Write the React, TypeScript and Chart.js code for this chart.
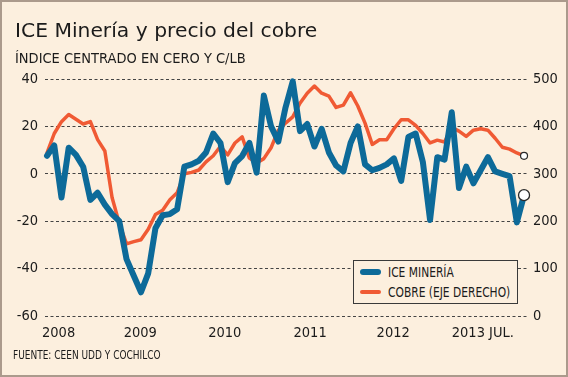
import React, { useEffect, useRef } from "react";
import { Chart, registerables } from "chart.js";

Chart.register(...registerables);

// Monthly values, Jan 2008 .. Jul 2013
const ICE_MINERIA = [
  7.6, 12, -10, 11, 8, 3, -11, -8, -13, -17,
  -20, -36, -43, -50, -42, -23, -17.5, -17, -15, 3,
  4, 5.5, 9, 17, 13, -3.5, 4.5, 7.5, 13, 0.5,
  33, 20, 13.6, 28, 39, 18, 21, 11.5, 19, 9,
  3.5, 1, 13, 20, 4, 1.5, 2.5, 4, 6.5, -3,
  15.5, 17, 5, -19.5, 7, 6, 26, -6, 3, -4,
  1.5, 7, 1, 0, -1, -20.5, -9,
];

const COBRE = [
  344, 385, 410, 425, 415, 405, 410, 372, 348, 250,
  195, 152, 157, 161, 183, 214, 223, 245, 260, 300,
  303, 308, 325, 338, 358, 340, 365, 378, 333, 323,
  332, 355, 392, 407, 420, 449, 470, 485, 470, 464,
  440, 445, 471, 443, 407, 362, 372, 372, 395, 414,
  414, 402, 385, 365, 371, 367, 398, 390, 379, 392,
  395, 392, 375, 356, 352, 344, 338,
];

const YEAR_LABELS = ["2008", "2009", "2010", "2011", "2012", "2013 JUL."];
const YEAR_LABEL_MONTHS = [1.6, 12.9, 24.6, 36.4, 47.9, 60.3];
const LEFT_TICKS = [-60, -40, -20, 0, 20, 40];
const RIGHT_TICKS = [0, 100, 200, 300, 400, 500];

const BG = "#fcefde";
const BLUE = "#0d6a99";
const ORANGE = "#f05a34";
const TEXT = "#1b1b1b";
const COND = '"DejaVu Sans Condensed", "DejaVu Sans", sans-serif';
const TICK_FONT = { family: COND, size: 14.5 };

export default function App() {
  const ref = useRef<HTMLCanvasElement>(null);

  useEffect(() => {
    const canvas = ref.current;
    if (!canvas) return;
    const lastIce = ICE_MINERIA.length - 1;
    const lastCobre = COBRE.length - 1;
    const chart = new Chart(canvas, {
      type: "line",
      data: {
        datasets: [
          {
            label: "ICE MINERÍA",
            data: ICE_MINERIA.map((y, x) => ({ x, y })),
            yAxisID: "y",
            borderColor: BLUE,
            backgroundColor: BLUE,
            borderWidth: 6,
            borderJoinStyle: "round",
            borderCapStyle: "round",
            tension: 0,
            clip: false,
            pointRadius: ICE_MINERIA.map((_, i) => (i === lastIce ? 5.5 : 0)),
            pointBackgroundColor: "#ffffff",
            pointBorderColor: "#2a2a2a",
            pointBorderWidth: 1.3,
          },
          {
            label: "COBRE (EJE DERECHO)",
            data: COBRE.map((y, x) => ({ x, y })),
            yAxisID: "y1",
            borderColor: ORANGE,
            backgroundColor: ORANGE,
            borderWidth: 3.5,
            borderJoinStyle: "round",
            borderCapStyle: "round",
            tension: 0,
            clip: false,
            pointRadius: COBRE.map((_, i) => (i === lastCobre ? 3.5 : 0)),
            pointBackgroundColor: "#ffffff",
            pointBorderColor: "#2a2a2a",
            pointBorderWidth: 1.2,
          },
        ],
      },
      options: {
        responsive: false,
        animation: false,
        events: [],
        layout: { padding: { top: 79, bottom: 31, left: 0, right: 0 } },
        plugins: {
          legend: { display: false },
          tooltip: { enabled: false },
          title: { display: false },
        },
        scales: {
          x: {
            type: "linear",
            min: -0.28,
            max: 66.41,
            grid: { display: false, drawTicks: false },
            border: { display: false },
            afterBuildTicks: (s: any) => {
              s.ticks = YEAR_LABEL_MONTHS.map((value) => ({ value }));
            },
            afterFit: (s: any) => {
              s.height = 30;
            },
            ticks: {
              autoSkip: false,
              maxRotation: 0,
              minRotation: 0,
              padding: 9,
              color: TEXT,
              font: TICK_FONT,
              callback: (_v: any, i: number) => YEAR_LABELS[i],
            },
          },
          y: {
            position: "left",
            min: -60,
            max: 40,
            afterBuildTicks: (s: any) => {
              s.ticks = LEFT_TICKS.map((value) => ({ value }));
            },
            afterFit: (s: any) => {
              s.width = 45;
            },
            grid: { color: "#444444", lineWidth: 1, drawTicks: false },
            border: { display: false, dash: [3, 2.5] },
            ticks: { padding: 7, color: TEXT, font: TICK_FONT },
          },
          y1: {
            position: "right",
            min: 0,
            max: 500,
            afterBuildTicks: (s: any) => {
              s.ticks = RIGHT_TICKS.map((value) => ({ value }));
            },
            afterFit: (s: any) => {
              s.width = 41;
            },
            grid: { display: false, drawTicks: false },
            border: { display: false },
            ticks: { padding: 6, color: TEXT, font: TICK_FONT },
          },
        },
      },
    } as any);
    return () => chart.destroy();
  }, []);

  const legendText: React.CSSProperties = {
    position: "absolute",
    left: 34,
    fontFamily: COND,
    fontSize: 13.5,
    lineHeight: "13.5px",
    whiteSpace: "nowrap",
    transform: "scaleX(0.88)",
    transformOrigin: "0 0",
  };

  return (
    <div
      style={{
        position: "fixed",
        left: 0,
        top: 0,
        width: 568,
        height: 377,
        boxSizing: "border-box",
        border: "2px solid #ab9a8c",
        background: BG,
        overflow: "hidden",
        color: TEXT,
      }}
    >
      <canvas
        ref={ref}
        width={568}
        height={377}
        style={{ position: "absolute", left: -2, top: -2, display: "block" }}
      />
      <div
        style={{
          position: "absolute",
          left: 13,
          top: 18,
          fontFamily: '"DejaVu Sans", sans-serif',
          fontSize: 20.3,
          lineHeight: "20px",
          whiteSpace: "nowrap",
        }}
      >
        ICE Minería y precio del cobre
      </div>
      <div
        style={{
          position: "absolute",
          left: 13,
          top: 48.5,
          fontFamily: COND,
          fontSize: 14.5,
          lineHeight: "14.5px",
          whiteSpace: "nowrap",
        }}
      >
        ÍNDICE CENTRADO EN CERO Y C/LB
      </div>
      <div
        style={{
          position: "absolute",
          left: 11,
          top: 348,
          fontFamily: COND,
          fontSize: 11.5,
          lineHeight: "11.5px",
          whiteSpace: "nowrap",
          transform: "scaleX(0.87)",
          transformOrigin: "0 0",
        }}
      >
        FUENTE: CEEN UDD Y COCHILCO
      </div>
      <div
        style={{
          position: "absolute",
          left: 351,
          top: 258,
          width: 165,
          height: 44,
          boxSizing: "border-box",
          border: "1px solid #3a3a3a",
          background: BG,
        }}
      >
        <div
          style={{
            position: "absolute",
            left: 6,
            top: 8,
            width: 21,
            height: 6,
            borderRadius: 3,
            background: BLUE,
          }}
        />
        <div style={{ ...legendText, top: 4.5 }}>ICE MINERÍA</div>
        <div
          style={{
            position: "absolute",
            left: 6,
            top: 28.7,
            width: 21,
            height: 4,
            borderRadius: 2,
            background: ORANGE,
          }}
        />
        <div style={{ ...legendText, top: 24.5 }}>COBRE (EJE DERECHO)</div>
      </div>
    </div>
  );
}
